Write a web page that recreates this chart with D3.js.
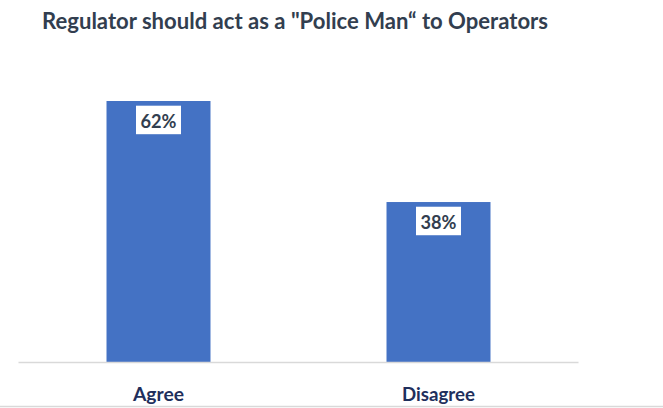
<!DOCTYPE html>
<html>
<head>
<meta charset="utf-8">
<script src="https://cdn.jsdelivr.net/npm/d3@7"></script>
<style>
  html, body { margin: 0; padding: 0; background: #fff; }
  svg { display: block; }
</style>
</head>
<body>
<svg id="chart" width="663" height="408"></svg>
<script>
var categories = ["Agree", "Disagree"];
var values = [62, 38];
var valueLabels = ["62%", "38%"];
var title = "Regulator should act as a \"Police Man\u201C to Operators";

var svg = d3.select("#chart");
var font = "Lato, 'Open Sans', sans-serif";

var x = d3.scaleBand()
    .domain(categories)
    .range([18.5, 578.5])
    .paddingInner(0.6286)
    .paddingOuter(0.3143);

var y = d3.scaleLinear()
    .domain([0, d3.max(values)])
    .range([362, 101]);

// title
svg.append("text")
    .attr("x", 42)
    .attr("y", 29)
    .attr("textLength", 506)
    .attr("lengthAdjust", "spacingAndGlyphs")
    .style("font-family", font)
    .style("font-weight", "bold")
    .style("font-size", "22px")
    .style("fill", "#323E4F")
    .text(title);

// bars
svg.selectAll("rect.bar")
    .data(values)
    .enter().append("rect")
    .attr("class", "bar")
    .attr("x", function(d, i) { return x(categories[i]); })
    .attr("y", function(d) { return y(d); })
    .attr("width", x.bandwidth())
    .attr("height", function(d) { return y(0) - y(d); })
    .style("fill", "#4472C4");

// axis line
svg.append("line")
    .attr("x1", x.range()[0])
    .attr("x2", x.range()[1])
    .attr("y1", y(0) + 0.5)
    .attr("y2", y(0) + 0.5)
    .style("stroke", "#D9D9D9")
    .style("stroke-width", 1.5);

// bottom border
svg.append("line")
    .attr("x1", 0)
    .attr("x2", 663)
    .attr("y1", 406.5)
    .attr("y2", 406.5)
    .style("stroke", "#D9D9D9")
    .style("stroke-width", 1.5);

// value labels in white boxes
var labels = svg.selectAll("g.vlabel")
    .data(values)
    .enter().append("g")
    .attr("class", "vlabel")
    .attr("transform", function(d, i) {
        return "translate(" + (x(categories[i]) + x.bandwidth() / 2) + "," + y(d) + ")";
    });

labels.append("rect")
    .attr("x", -22.5)
    .attr("y", 4.7)
    .attr("width", 45)
    .attr("height", 28.5)
    .style("fill", "#fff");

labels.append("text")
    .attr("x", 0)
    .attr("y", 27)
    .attr("text-anchor", "middle")
    .attr("textLength", 36)
    .attr("lengthAdjust", "spacingAndGlyphs")
    .style("font-family", font)
    .style("font-weight", "bold")
    .style("font-size", "19.5px")
    .style("fill", "#323E4F")
    .text(function(d, i) { return valueLabels[i]; });

// category labels
var catWidths = [51, 73];
svg.selectAll("text.cat")
    .data(categories)
    .enter().append("text")
    .attr("class", "cat")
    .attr("x", function(d) { return x(d) + x.bandwidth() / 2; })
    .attr("y", 401)
    .attr("text-anchor", "middle")
    .attr("textLength", function(d, i) { return catWidths[i]; })
    .attr("lengthAdjust", "spacingAndGlyphs")
    .style("font-family", font)
    .style("font-weight", "bold")
    .style("font-size", "19.5px")
    .style("fill", "#1F2F5C")
    .text(function(d) { return d; });
</script>
</body>
</html>
